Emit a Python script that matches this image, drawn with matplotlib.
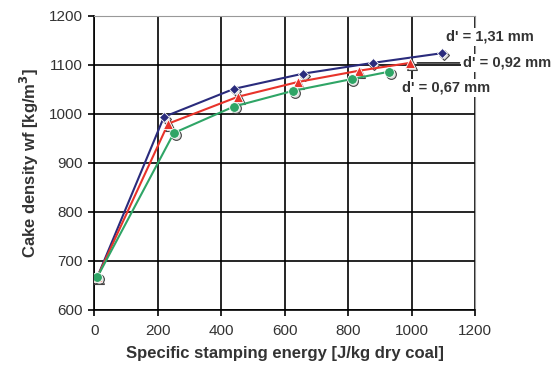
"""
Cake density vs specific stamping energy for three particle sizes
"""
import matplotlib
matplotlib.use('Agg')
import matplotlib.pyplot as plt
import matplotlib.transforms as mtransforms

plt.rcParams['font.family'] = ['Liberation Sans', 'DejaVu Sans']

# Data
energy_131 = [10, 220, 440, 657, 877, 1097]
density_131 = [667, 994, 1051, 1082, 1104, 1124]
energy_092 = [10, 233, 453, 641, 833, 994]
density_092 = [667, 980, 1035, 1065, 1088, 1104]
energy_067 = [10, 251, 440, 626, 811, 928]
density_067 = [667, 961, 1015, 1047, 1071, 1086]

labels = ["d' = 1,31 mm", "d' = 0,92 mm", "d' = 0,67 mm"]
colors = ['#2a2b7c', '#e8332a', '#2fa566']
markers = ['D', '^', 'o']
sizes = [5, 7, 7]

fig = plt.figure(figsize=(5.57, 3.78), dpi=100)
ax = fig.add_axes([0.169, 0.18, 0.684, 0.778])

# small drop shadow under each marker
off = mtransforms.ScaledTranslation(1.8 / 100, -1.8 / 100, fig.dpi_scale_trans)

series = [(energy_131, density_131), (energy_092, density_092), (energy_067, density_067)]
for (x, y), m, s in zip(series, markers, sizes):
    ax.plot(x, y, ls='none', marker=m, ms=s, mfc='#dddddd', mec='#444444',
            mew=0.8, transform=ax.transData + off, zorder=3)
for (x, y), c, m, s in zip(series, colors, markers, sizes):
    ax.plot(x, y, color=c, lw=1.5, marker=m, ms=s, mfc=c, mec='white',
            mew=0.6, zorder=4)

ax.set_xlim(0, 1200)
ax.set_ylim(600, 1200)
ax.set_xticks(range(0, 1201, 200))
ax.set_yticks(range(600, 1201, 100))
ax.grid(True, color='black', lw=1.2)
ax.set_axisbelow(True)
for side in ['top', 'right']:
    ax.spines[side].set_color('#999999')
for side in ['left', 'bottom']:
    ax.spines[side].set_color('black')
    ax.spines[side].set_linewidth(1.2)
ax.tick_params(direction='out', length=4, width=1.2, labelsize=11,
               labelcolor='#333333', pad=6)
ax.tick_params(axis='y', pad=4)

ax.set_xlabel('Specific stamping energy [J/kg dry coal]', fontsize=12,
              fontweight='bold', color='#333333', labelpad=6)
ax.set_ylabel('Cake density wf [kg/m$^\\mathbf{3}$]', fontsize=12,
              fontweight='bold', color='#333333', labelpad=6)

# series labels, white box hides grid and frame behind them
box = dict(facecolor='white', edgecolor='none', pad=1.5)
ax.text(1109, 1157, labels[0], fontsize=10.5, fontweight='bold', color='#333333',
        ha='left', va='center', bbox=box, zorder=6)
ax.annotate(labels[1], xy=(1000, 1104), xytext=(1162, 1104), fontsize=10.5,
            fontweight='bold', color='#333333', ha='left', va='center',
            annotation_clip=False, bbox=box, zorder=6,
            arrowprops=dict(arrowstyle='-', color='black', lw=1.0,
                            shrinkA=1, shrinkB=4))
ax.text(970, 1053, labels[2], fontsize=10.5, fontweight='bold', color='#333333',
        ha='left', va='center', bbox=box, zorder=6)

fig.savefig('out.png', dpi=100, facecolor='white')
